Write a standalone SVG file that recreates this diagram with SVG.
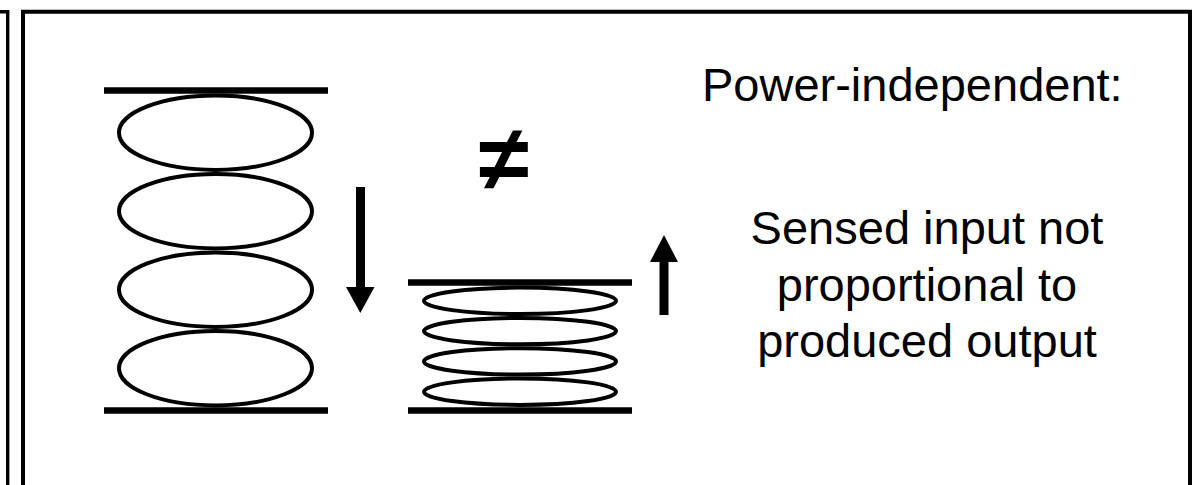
<svg xmlns="http://www.w3.org/2000/svg" width="1198" height="485" viewBox="0 0 1198 485">
<defs>
<style>
.frame{fill:none;stroke:#000;stroke-width:4}
.plate{stroke:#000;stroke-width:6.5}
.coil{fill:none;stroke:#000;stroke-width:4}
.arrow{stroke:#000;stroke-width:9}
.txt{font-family:"Liberation Sans",Arial,sans-serif;font-size:47px;fill:#000}
</style>
</defs>
<rect width="1198" height="485" fill="#fff"/>
<g id="left-panel-edge">
<path d="M0 11.7 H7.7 V490" fill="none" stroke="#000" stroke-width="3.4"/>
</g>
<g id="panel">
<path class="frame" d="M23 490 V11.7 H1190 V490"/>
</g>
<g id="tall-spring">
<line class="plate" x1="104" y1="90.5" x2="328" y2="90.5"/>
<ellipse class="coil" cx="215.5" cy="132.7" rx="96.5" ry="37.2"/>
<ellipse class="coil" cx="215.5" cy="211.2" rx="96.5" ry="37.2"/>
<ellipse class="coil" cx="215.5" cy="289.7" rx="96.5" ry="37.2"/>
<ellipse class="coil" cx="215.5" cy="368.2" rx="96.5" ry="37.2"/>
<line class="plate" x1="104" y1="410.5" x2="328" y2="410.5"/>
</g>
<g id="compressed-spring">
<line class="plate" x1="408" y1="282.5" x2="632" y2="282.5"/>
<ellipse class="coil" cx="520" cy="300.8" rx="96" ry="13.2"/>
<ellipse class="coil" cx="520" cy="331.1" rx="96" ry="13.2"/>
<ellipse class="coil" cx="520" cy="361.4" rx="96" ry="13.2"/>
<ellipse class="coil" cx="520" cy="391.7" rx="96" ry="13.2"/>
<line class="plate" x1="408" y1="410.5" x2="632" y2="410.5"/>
</g>
<g id="connectors">
<line class="arrow" x1="360.5" y1="187" x2="360.5" y2="289"/>
<polygon points="346,287 374.5,287 360.3,313"/>
<line class="arrow" x1="664" y1="315" x2="664" y2="260"/>
<polygon points="650,262 678,262 664,235"/>
</g>
<g id="not-equal">
<text x="504" y="190" text-anchor="middle" font-family="'Liberation Sans',Arial,sans-serif" font-weight="bold" font-size="92" fill="#000">≠</text>
</g>
<g id="labels">
<text class="txt" x="702" y="101">Power-independent:</text>
<text class="txt" x="927" y="243.5" text-anchor="middle">Sensed input not</text>
<text class="txt" x="927" y="300.5" text-anchor="middle">proportional to</text>
<text class="txt" x="927" y="357" text-anchor="middle">produced output</text>
</g>
</svg>
